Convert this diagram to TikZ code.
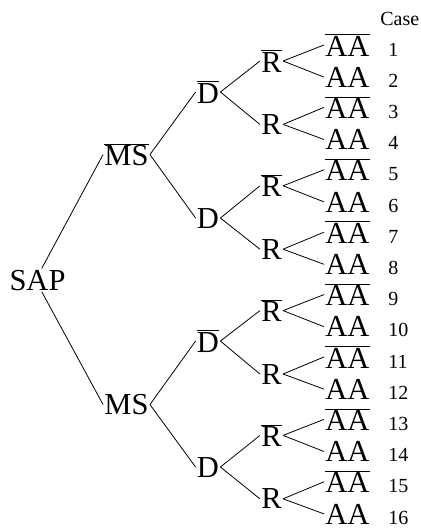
\documentclass[tikz,border=0pt]{standalone}
\usepackage{fontspec}
\setmainfont{Liberation Serif}
\usepackage{tikz}

\newcommand{\ob}[1]{$\overline{\hbox{#1}}$}

\begin{document}
\begin{tikzpicture}[x=1pt,y=-1pt,line width=0.8pt,
  lbl/.style={inner sep=1pt, anchor=base, font=\fontsize{30.5}{30.5}\selectfont},
  num/.style={inner sep=0pt, anchor=base west, font=\fontsize{20}{20}\selectfont}]
\useasboundingbox (0,0) rectangle (421,531);
% root and first level
\node[lbl] (sap) at (37.5,290) {SAP};
\node[lbl] (ms1) at (126.5,165.5) {\ob{MS}};
\node[lbl] (ms2) at (126.5,414.5) {MS};
% second level
\node[lbl] (d1) at (208,103) {\ob{D}};
\node[lbl] (d2) at (208,228) {D};
\node[lbl] (d3) at (208,352) {\ob{D}};
\node[lbl] (d4) at (208,477) {D};
% third level
\node[lbl] (r1) at (271.5,72) {\ob{R}};
\node[lbl] (r2) at (271.5,134.4) {R};
\node[lbl] (r3) at (271.5,196.8) {\ob{R}};
\node[lbl] (r4) at (271.5,259.2) {R};
\node[lbl] (r5) at (271.5,321.6) {\ob{R}};
\node[lbl] (r6) at (271.5,384) {R};
\node[lbl] (r7) at (271.5,446.4) {\ob{R}};
\node[lbl] (r8) at (271.5,508.8) {R};
% leaves and case numbers
\node[num] (case) at (380,25) {Case};
\foreach \k in {1,...,16} {
  \pgfmathsetmacro\yy{56+31.2*(\k-1)}
  \ifodd\k
    \node[lbl] (aa\k) at (347.5,\yy) {\ob{AA}};
  \else
    \node[lbl] (aa\k) at (347.5,\yy) {AA};
  \fi
  \node[num] (n\k) at (388,\yy) {\k};
}
% connectors
\draw (sap.70) -- (ms1.west);
\draw (sap.-70) -- (ms2.west);
\draw (ms1.east) -- (d1.west);
\draw (ms1.east) -- (d2.west);
\draw (ms2.east) -- (d3.west);
\draw (ms2.east) -- (d4.west);
\foreach \i in {1,...,4} {
  \pgfmathtruncatemacro\ra{2*\i-1}
  \pgfmathtruncatemacro\rb{2*\i}
  \draw (d\i.east) -- (r\ra.west);
  \draw (d\i.east) -- (r\rb.west);
}
\foreach \j in {1,...,8} {
  \pgfmathtruncatemacro\la{2*\j-1}
  \pgfmathtruncatemacro\lb{2*\j}
  \draw (r\j.east) -- (aa\la.west);
  \draw (r\j.east) -- (aa\lb.west);
}
\end{tikzpicture}
\end{document}
